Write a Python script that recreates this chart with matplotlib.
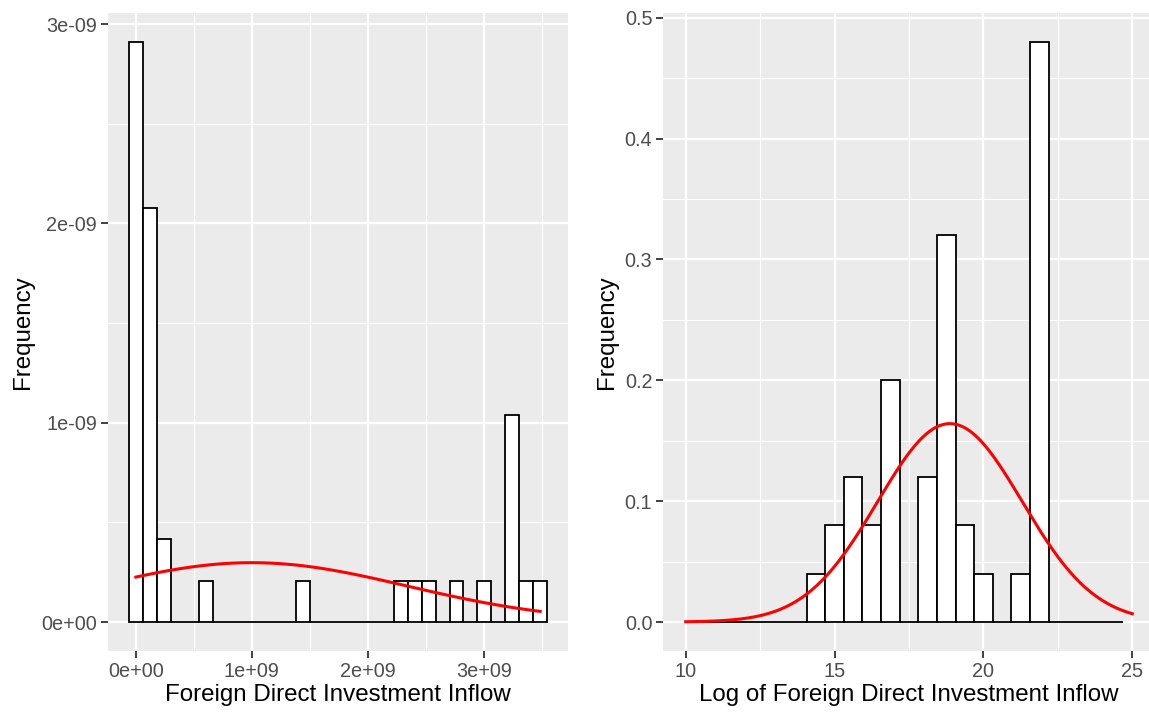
import numpy as np
import matplotlib
matplotlib.use("Agg")
import matplotlib.pyplot as plt

# ---------------- data ----------------
# Left: FDI inflow histogram (30 bins, counts), n = 40
fdi_min = 0.0
fdi_max = 3.487e9
fdi_counts = [14, 10, 2, 0, 0, 1, 0, 0, 0, 0, 0, 0, 1, 0, 0, 0, 0, 0, 0, 1,
              1, 1, 0, 1, 0, 1, 0, 5, 1, 1]
fdi_mean = 1.0e9
fdi_sd = 1.34e9

# Right: log FDI histogram (binwidth 0.625, xlim 10..25), n = 40
log_edge0 = 10.3125
log_width = 0.625
log_counts = [0, 0, 0, 0, 0, 0, 1, 2, 3, 2, 5, 0, 3, 8, 2, 1, 0, 1, 12, 0, 0, 0, 0]
log_mean = 18.875
log_sd = 2.43
log_xlim = (10, 25)

left_xticks = [0, 1e9, 2e9, 3e9]
left_xticklabels = ["0e+00", "1e+09", "2e+09", "3e+09"]
left_yticks = [0, 1e-9, 2e-9, 3e-9]
left_yticklabels = ["0e+00", "1e-09", "2e-09", "3e-09"]
right_xticks = [10, 15, 20, 25]
right_yticks = [0.0, 0.1, 0.2, 0.3, 0.4, 0.5]

# ---------------- style ----------------
plt.rcParams['font.family'] = ['Liberation Sans', 'DejaVu Sans']
BG = "#EBEBEB"
TICK_FS = 14.3
TITLE_FS = 17.4

fig = plt.figure(figsize=(11.49, 7.15), dpi=100)
W, H = 1149, 715

def style_axes(ax, xmajor, xminor, ymajor, yminor):
    ax.set_facecolor(BG)
    for s in ax.spines.values():
        s.set_visible(False)
    for v in xminor:
        ax.axvline(v, color="white", lw=0.8, zorder=0.5)
    for v in xmajor:
        ax.axvline(v, color="white", lw=1.6, zorder=0.6)
    for v in yminor:
        ax.axhline(v, color="white", lw=0.8, zorder=0.5)
    for v in ymajor:
        ax.axhline(v, color="white", lw=1.6, zorder=0.6)
    ax.tick_params(axis="both", length=5, width=1.3, color="#333333",
                   labelcolor="#4D4D4D", labelsize=TICK_FS, pad=3)

def hist_density(ax, edges0, width, counts):
    counts = np.asarray(counts, dtype=float)
    n = counts.sum()
    dens = counts / (n * width)
    lefts = edges0 + width * np.arange(len(counts))
    ax.bar(lefts, dens, width=width, align="edge", facecolor="white",
           edgecolor="black", linewidth=1.3, zorder=2)
    return dens

def normpdf(x, m, s):
    return np.exp(-0.5 * ((x - m) / s) ** 2) / (s * np.sqrt(2 * np.pi))

# ---------------- left panel ----------------
ax1 = fig.add_axes([108 / W, (H - 651) / H, 460 / W, 638 / H])
w1 = (fdi_max - fdi_min) / (len(fdi_counts) - 1)
e0 = fdi_min - w1 / 2
dens1 = hist_density(ax1, e0, w1, fdi_counts)
xs = np.linspace(fdi_min, fdi_max, 101)
ax1.plot(xs, normpdf(xs, fdi_mean, fdi_sd), color="red", lw=2.2, zorder=3)
lo, hi = e0, e0 + w1 * len(fdi_counts)
pad = 0.05 * (hi - lo)
ax1.set_xlim(lo - pad, hi + pad)
ymax = dens1.max()
ax1.set_ylim(-0.05 * ymax, ymax * 1.05)
style_axes(ax1, left_xticks, [0.5e9, 1.5e9, 2.5e9, 3.5e9],
           left_yticks, [0.5e-9, 1.5e-9, 2.5e-9])
ax1.set_xticks(left_xticks)
ax1.set_xticklabels(left_xticklabels)
ax1.set_yticks(left_yticks)
ax1.set_yticklabels(left_yticklabels)
ax1.set_xlabel("Foreign Direct Investment Inflow", fontsize=TITLE_FS, labelpad=2)
ax1.set_ylabel("Frequency", fontsize=TITLE_FS, labelpad=5)

# ---------------- right panel ----------------
ax2 = fig.add_axes([663.4 / W, (H - 651) / H, 491.2 / W, 638 / H])
dens2 = hist_density(ax2, log_edge0, log_width, log_counts)
xs2 = np.linspace(log_xlim[0], log_xlim[1], 301)
ax2.plot(xs2, normpdf(xs2, log_mean, log_sd), color="red", lw=2.2, zorder=3)
pad2 = 0.05 * (log_xlim[1] - log_xlim[0])
ax2.set_xlim(log_xlim[0] - pad2, log_xlim[1] + pad2)
ymax2 = dens2.max()
ax2.set_ylim(-0.05 * ymax2, ymax2 * 1.05)
style_axes(ax2, right_xticks, [12.5, 17.5, 22.5],
           right_yticks, [0.05, 0.15, 0.25, 0.35, 0.45])
ax2.set_xticks(right_xticks)
ax2.set_xticklabels([str(t) for t in right_xticks])
ax2.set_yticks(right_yticks)
ax2.set_yticklabels([f"{t:.1f}" for t in right_yticks])
ax2.set_xlabel("Log of Foreign Direct Investment Inflow", fontsize=TITLE_FS, labelpad=2)
ax2.set_ylabel("Frequency", fontsize=TITLE_FS, labelpad=5)

fig.savefig("out.png", dpi=100)
